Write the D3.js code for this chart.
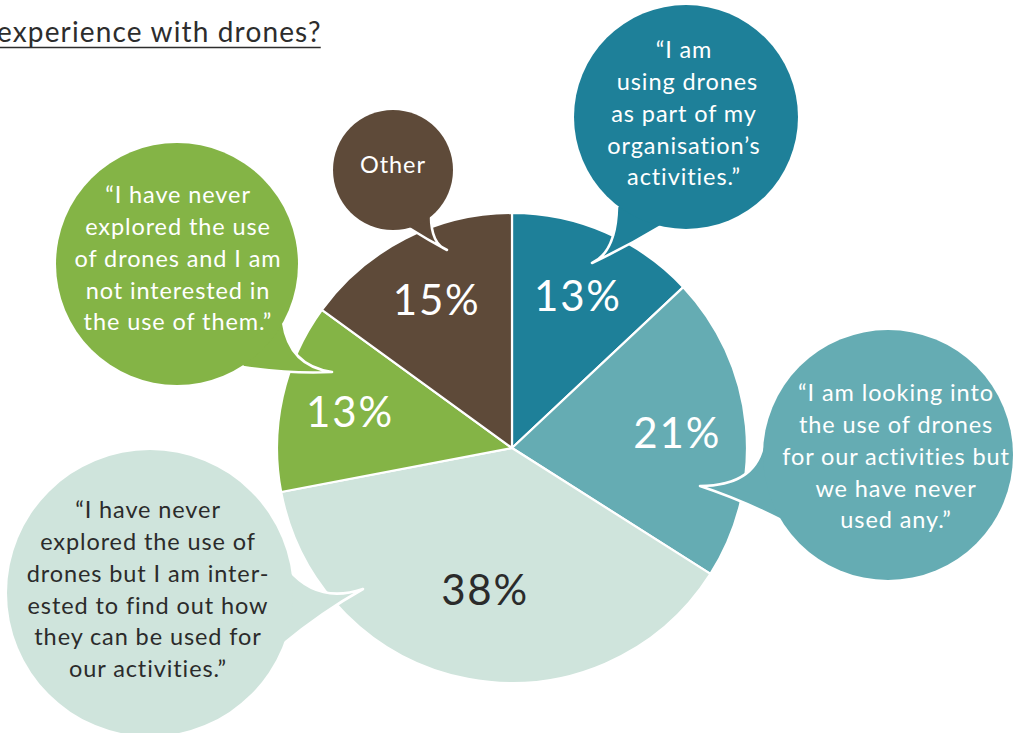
<!DOCTYPE html>
<html>
<head>
<meta charset="utf-8">
<script src="https://cdn.jsdelivr.net/npm/d3@7"></script>
<style>
  html, body { margin: 0; padding: 0; background: #ffffff; }
  svg { display: block; font-family: Lato, "Open Sans", sans-serif; font-variant-ligatures: none; }
</style>
</head>
<body>
<svg id="chart" width="1017" height="733"></svg>
<script>
// Survey answers, clockwise from 12 o'clock
const categories = ["Using", "Looking into", "Interested", "Not interested", "Other"];
const shares = [13, 21, 38, 13, 15];
const quotes = [
  ["\u201CI am", " using drones", "as part of my", "organisation\u2019s", "activities.\u201D"],
  ["\u201CI am looking into", "the use of drones", "for our activities but", "we have never", "used any.\u201D"],
  ["\u201CI have never", "explored the use of", "drones but I am inter-", "ested to find out how", "they can be used for", "our activities.\u201D"],
  ["\u201CI have never", "explored the use", "of drones and I am", "not interested in", "the use of them.\u201D"],
  ["Other"]
];
const titleText = "experience with drones?";

const colors = d3.scaleOrdinal()
  .domain(categories)
  .range(["#1e8099", "#65acb3", "#cfe4dc", "#84b446", "#5e4a39"]);
const inkColors = d3.scaleOrdinal()
  .domain(categories)
  .range(["#ffffff", "#ffffff", "#2b2b2b", "#ffffff", "#ffffff"]);

const svg = d3.select("#chart");

// Title (runs off the left edge), underlined
const title = svg.append("text")
  .attr("x", -3).attr("y", 42)
  .attr("font-size", 28)
  .attr("letter-spacing", 1.15)
  .attr("fill", "#2d2d2d")
  .text(titleText);
const tw = title.node().getComputedTextLength();
svg.append("line")
  .attr("x1", 0).attr("x2", tw - 4)
  .attr("y1", 47.5).attr("y2", 47.5)
  .attr("stroke", "#2d2d2d").attr("stroke-width", 1.4);

// Pie
const cx = 512, cy = 448, R = 235;
const pieData = d3.pie().sort(null).value(d => d.value)(
  categories.map((c, i) => ({ cat: c, value: shares[i] }))
);
const arc = d3.arc().innerRadius(0).outerRadius(R);
const pieG = svg.append("g").attr("transform", `translate(${cx},${cy})`);
pieG.selectAll("path.slice").data(pieData).join("path")
  .attr("class", "slice")
  .attr("d", arc)
  .attr("fill", d => colors(d.data.cat))
  .attr("stroke", "#ffffff")
  .attr("stroke-width", 2.2)
  .attr("stroke-linejoin", "round");

pieG.selectAll("text.pct").data(pieData).join("text")
  .attr("class", "pct")
  .attr("transform", d => {
    const r = d.data.value > 30 ? 144 : 166;
    const a = (d.startAngle + d.endAngle) / 2;
    return `translate(${r * Math.sin(a)},${-r * Math.cos(a)})`;
  })
  .attr("text-anchor", "middle")
  .attr("dy", "0.36em")
  .attr("font-size", 42)
  .attr("letter-spacing", 1.8)
  .attr("fill", d => inkColors(d.data.cat))
  .text(d => d.data.value + "%");

// Speech bubbles: circle + curved tail pointing at the pie
const bubbleLayout = [
  { cx: 686, cy: 117, r: 112, textX: 684, textY: 50,
    tail: { a: [617, 207], c1: [616, 252], tip: [592, 263], c2: [628, 246], b: [661, 226] } },
  { cx: 888, cy: 455, r: 125, textX: 896, textY: 393,
    tail: { a: [764, 440], c1: [758, 486], tip: [700, 486], c2: [742, 500], b: [781, 520] } },
  { cx: 150, cy: 593, r: 143, textX: 148, textY: 510,
    tail: { a: [289, 570], c1: [318, 604], tip: [363, 589], c2: [322, 612], b: [282, 645] } },
  { cx: 177, cy: 264, r: 121, textX: 178, textY: 195,
    tail: { a: [283, 322], c1: [289, 366], tip: [332, 372], c2: [290, 374], b: [243, 367] } },
  { cx: 393, cy: 170, r: 60, textX: 393, textY: 165,
    tail: { a: [409, 228], c1: [428, 240], tip: [447, 250], c2: [431, 244], b: [431, 216] } }
];

const bubbles = svg.append("g").attr("class", "bubbles");
categories.forEach((cat, i) => {
  const L = bubbleLayout[i];
  const g = bubbles.append("g");
  const fill = colors(cat);
  // outline ring
  g.append("circle").attr("cx", L.cx).attr("cy", L.cy).attr("r", L.r)
    .attr("fill", fill).attr("stroke", "#ffffff").attr("stroke-width", 5);
  // tail
  const t = L.tail;
  const p = d3.path();
  p.moveTo(L.cx, L.cy);
  p.lineTo(t.a[0], t.a[1]);
  p.quadraticCurveTo(t.c1[0], t.c1[1], t.tip[0], t.tip[1]);
  p.quadraticCurveTo(t.c2[0], t.c2[1], t.b[0], t.b[1]);
  p.closePath();
  g.append("path").attr("d", p.toString())
    .attr("fill", fill).attr("stroke", "#ffffff").attr("stroke-width", 2.6)
    .attr("stroke-linejoin", "round");
  // body fill hides the tail's inner seam
  g.append("circle").attr("cx", L.cx).attr("cy", L.cy).attr("r", L.r)
    .attr("fill", fill);
  // quote text
  const txt = g.append("text")
    .attr("text-anchor", "middle")
    .attr("font-size", 23.5)
    .attr("letter-spacing", 0.9)
    .attr("fill", inkColors(cat));
  quotes[i].forEach((line, k) => {
    txt.append("tspan")
      .attr("x", L.textX)
      .attr("y", L.textY + k * 31.8)
      .attr("dy", "0.35em")
      .attr("xml:space", "preserve")
      .text(line);
  });
});
</script>
</body>
</html>
